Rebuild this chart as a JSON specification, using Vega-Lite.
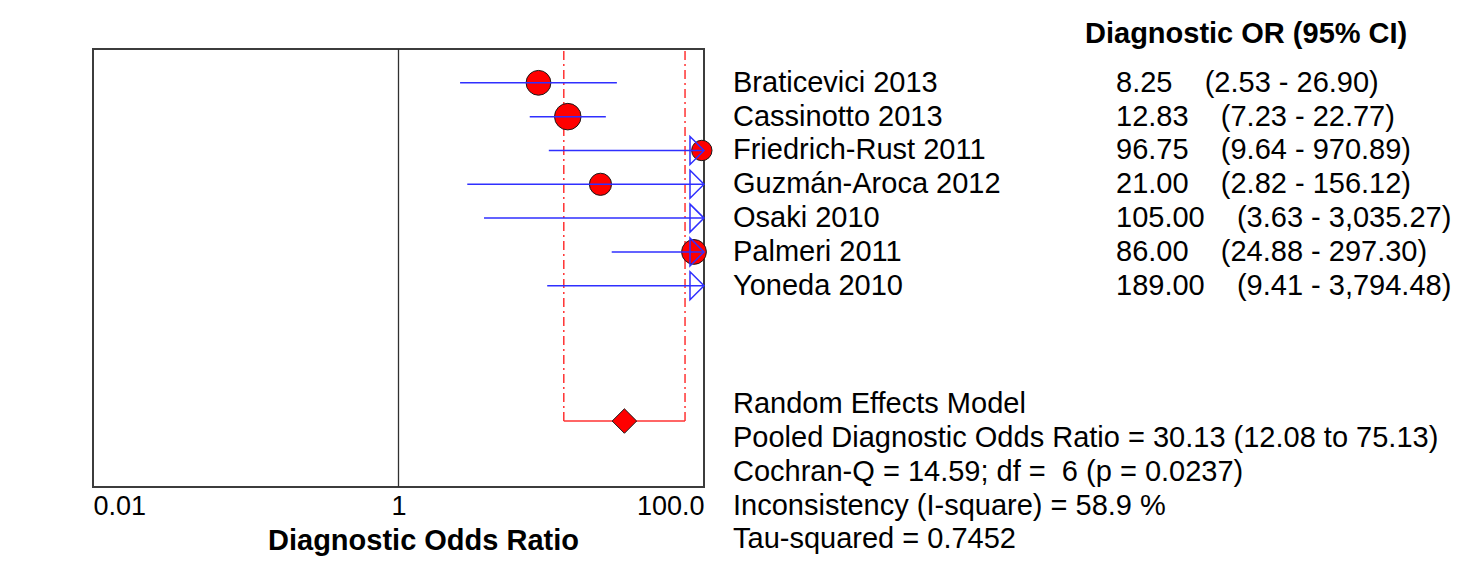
{
  "$schema": "https://vega.github.io/schema/vega-lite/v6.json",
  "background": "white",
  "padding": {"left": 92, "top": 20, "right": 0, "bottom": 0},
  "config": {"font": "Liberation Sans", "view": {"stroke": null}},
  "datasets": {
    "studies": [
      {"study": "Braticevici 2013", "or": 8.25, "lo": 2.53, "hi": 26.90, "weight": 17.3, "row": 1, "label": "8.25\u00a0\u00a0\u00a0\u00a0(2.53 - 26.90)"},
      {"study": "Cassinotto 2013", "or": 12.83, "lo": 7.23, "hi": 22.77, "weight": 19.8, "row": 2, "label": "12.83\u00a0\u00a0\u00a0\u00a0(7.23 - 22.77)"},
      {"study": "Friedrich-Rust 2011", "or": 96.75, "lo": 9.64, "hi": 970.89, "weight": 11.7, "row": 3, "label": "96.75\u00a0\u00a0\u00a0\u00a0(9.64 - 970.89)"},
      {"study": "Guzmán-Aroca 2012", "or": 21.00, "lo": 2.82, "hi": 156.12, "weight": 13.8, "row": 4, "label": "21.00\u00a0\u00a0\u00a0\u00a0(2.82 - 156.12)"},
      {"study": "Osaki 2010", "or": 105.00, "lo": 3.63, "hi": 3035.27, "weight": 10.1, "row": 5, "label": "105.00\u00a0\u00a0\u00a0\u00a0(3.63 - 3,035.27)"},
      {"study": "Palmeri 2011", "or": 86.00, "lo": 24.88, "hi": 297.30, "weight": 17.3, "row": 6, "label": "86.00\u00a0\u00a0\u00a0\u00a0(24.88 - 297.30)"},
      {"study": "Yoneda 2010", "or": 189.00, "lo": 9.41, "hi": 3794.48, "weight": 10.1, "row": 7, "label": "189.00\u00a0\u00a0\u00a0\u00a0(9.41 - 3,794.48)"}
    ],
    "pooled": [
      {"model": "Random Effects Model", "or": 30.13, "lo": 12.08, "hi": 75.13, "row": 11}
    ],
    "summary": [
      {"line": 10.5, "text": "Random Effects Model"},
      {"line": 11.5, "text": "Pooled Diagnostic Odds Ratio = 30.13 (12.08 to 75.13)"},
      {"line": 12.5, "text": "Cochran-Q = 14.59; df = \u00a06 (p = 0.0237)"},
      {"line": 13.5, "text": "Inconsistency (I-square) = 58.9 %"},
      {"line": 14.5, "text": "Tau-squared = 0.7452"}
    ]
  },
  "spacing": 29,
  "bounds": "flush",
  "hconcat": [
    {
      "width": 611,
      "height": 438,
      "view": {"stroke": "#3c3c3c", "strokeWidth": 2},
      "layer": [
        {
          "data": {"values": [{"ref": 1}]},
          "mark": {"type": "rule", "color": "#303030", "strokeWidth": 1.3},
          "encoding": {
            "x": {
              "field": "ref", "type": "quantitative",
              "scale": {"type": "log", "domain": [0.01, 100], "nice": false},
              "axis": {
                "values": [0.01, 1, 100],
                "labelExpr": "datum.value >= 100 ? '100.0' : datum.value >= 1 ? '1' : '0.01'",
                "labelFlush": true, "labelOverlap": false,
                "ticks": false, "tickSize": 0, "domain": false, "grid": false,
                "labelFontSize": 27, "labelColor": "#000000", "labelPadding": 6,
                "title": "Diagnostic Odds Ratio", "titleFontSize": 29, "titleFontWeight": "bold",
                "titleColor": "#000000", "titlePadding": 7, "titleX": 330, "titleAlign": "center"
              }
            }
          }
        },
        {
          "data": {"name": "pooled"},
          "mark": {"type": "rule", "color": "#ff3333", "strokeWidth": 1.5, "strokeDash": [9, 4, 2, 4]},
          "encoding": {
            "x": {"field": "lo", "type": "quantitative", "scale": {"type": "log", "domain": [0.01, 100], "nice": false}},
            "y": {"field": "row", "type": "quantitative", "scale": {"domain": [0, 12.95], "reverse": true, "nice": false, "zero": false}, "axis": null},
            "y2": {"datum": 0}
          }
        },
        {
          "data": {"name": "pooled"},
          "mark": {"type": "rule", "color": "#ff3333", "strokeWidth": 1.5, "strokeDash": [9, 4, 2, 4]},
          "encoding": {
            "x": {"field": "hi", "type": "quantitative", "scale": {"type": "log", "domain": [0.01, 100], "nice": false}},
            "y": {"field": "row", "type": "quantitative", "scale": {"domain": [0, 12.95], "reverse": true, "nice": false, "zero": false}, "axis": null},
            "y2": {"datum": 0}
          }
        },
        {
          "data": {"name": "pooled"},
          "mark": {"type": "rule", "color": "#ff3333", "strokeWidth": 1.5},
          "encoding": {
            "x": {"field": "lo", "type": "quantitative", "scale": {"type": "log", "domain": [0.01, 100], "nice": false}},
            "x2": {"field": "hi"},
            "y": {"field": "row", "type": "quantitative", "scale": {"domain": [0, 12.95], "reverse": true, "nice": false, "zero": false}, "axis": null}
          }
        },
        {
          "data": {"name": "studies"},
          "transform": [{"filter": "datum.or <= 100"}],
          "mark": {"type": "point", "shape": "circle", "filled": true, "fill": "#ff0000", "stroke": "#1a1a1a", "strokeWidth": 1, "opacity": 1},
          "encoding": {
            "x": {"field": "or", "type": "quantitative", "scale": {"type": "log", "domain": [0.01, 100], "nice": false}},
            "y": {"field": "row", "type": "quantitative", "scale": {"domain": [0, 12.95], "reverse": true, "nice": false, "zero": false}, "axis": null},
            "size": {"field": "weight", "type": "quantitative", "scale": {"domain": [0, 20], "range": [0, 712], "zero": true}, "legend": null}
          }
        },
        {
          "data": {"name": "studies"},
          "mark": {"type": "rule", "color": "#2f2fff", "strokeWidth": 1.5, "clip": true},
          "encoding": {
            "x": {"field": "lo", "type": "quantitative", "scale": {"type": "log", "domain": [0.01, 100], "nice": false}},
            "x2": {"field": "hi"},
            "y": {"field": "row", "type": "quantitative", "scale": {"domain": [0, 12.95], "reverse": true, "nice": false, "zero": false}, "axis": null}
          }
        },
        {
          "data": {"name": "studies"},
          "transform": [{"filter": "datum.hi > 100"}],
          "mark": {"type": "point", "shape": "M -1 -1 L 0 0 L -1 1 Z", "filled": false, "stroke": "#2f2fff", "strokeWidth": 1.5, "size": 784, "opacity": 1},
          "encoding": {
            "x": {"datum": 100, "type": "quantitative", "scale": {"type": "log", "domain": [0.01, 100], "nice": false}},
            "y": {"field": "row", "type": "quantitative", "scale": {"domain": [0, 12.95], "reverse": true, "nice": false, "zero": false}, "axis": null}
          }
        },
        {
          "data": {"name": "pooled"},
          "mark": {"type": "point", "shape": "diamond", "filled": true, "fill": "#ff0000", "stroke": "#1a1a1a", "strokeWidth": 1, "size": 600, "opacity": 1},
          "encoding": {
            "x": {"field": "or", "type": "quantitative", "scale": {"type": "log", "domain": [0.01, 100], "nice": false}},
            "y": {"field": "row", "type": "quantitative", "scale": {"domain": [0, 12.95], "reverse": true, "nice": false, "zero": false}, "axis": null}
          }
        }
      ]
    },
    {
      "width": 700,
      "height": 438,
      "title": {"text": "Diagnostic OR (95% CI)", "anchor": "start", "frame": "group", "dx": 352, "offset": -23, "baseline": "alphabetic", "fontSize": 29, "fontWeight": "bold", "color": "#000000"},
      "layer": [
        {
          "data": {"name": "studies"},
          "mark": {"type": "text", "align": "left", "baseline": "middle", "fontSize": 29, "color": "#000000"},
          "encoding": {
            "x": {"value": 0},
            "y": {"field": "row", "type": "quantitative", "scale": {"domain": [0, 12.95], "reverse": true, "nice": false, "zero": false}, "axis": null},
            "text": {"field": "study", "type": "nominal"}
          }
        },
        {
          "data": {"name": "studies"},
          "mark": {"type": "text", "align": "left", "baseline": "middle", "fontSize": 29, "color": "#000000", "dx": 383},
          "encoding": {
            "x": {"value": 0},
            "y": {"field": "row", "type": "quantitative", "scale": {"domain": [0, 12.95], "reverse": true, "nice": false, "zero": false}, "axis": null},
            "text": {"field": "label", "type": "nominal"}
          }
        },
        {
          "data": {"name": "summary"},
          "mark": {"type": "text", "align": "left", "baseline": "middle", "fontSize": 29, "color": "#000000"},
          "encoding": {
            "x": {"value": 0},
            "y": {"field": "line", "type": "quantitative", "scale": {"domain": [0, 12.95], "reverse": true, "nice": false, "zero": false}, "axis": null},
            "text": {"field": "text", "type": "nominal"}
          }
        }
      ]
    }
  ]
}
